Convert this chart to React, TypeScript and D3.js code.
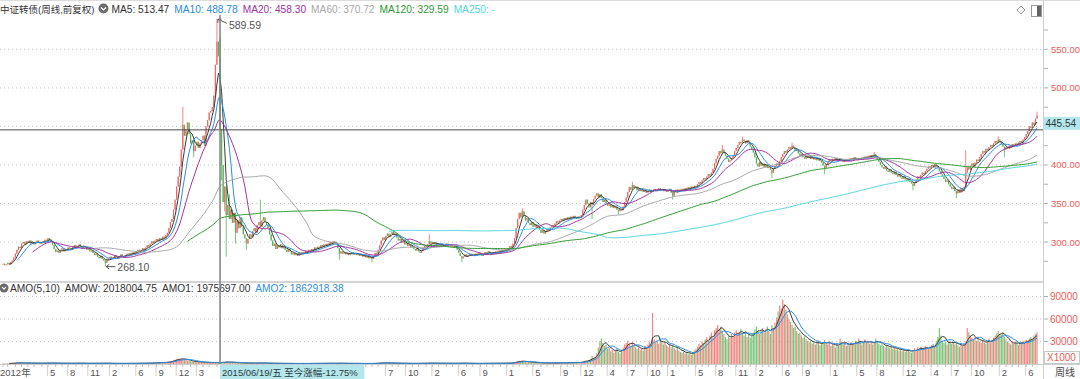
import React from "react";
import * as d3 from "d3";

// ---------------- data ----------------
const startDate = "2012-10-12"; // first weekly bar (Friday)
const title = "中证转债(周线,前复权)";

// weekly closes
const closes: number[] = [
  272,270,271,273,271,274,276,280,285,290,
  294,292,298,300,297,301,299,302,298,300,
  297,299,302,300,298,299,301,303,302,305,
  303,300,296,291,287,289,286,290,292,288,
  291,289,293,292,290,294,296,293,295,297,
  294,292,295,293,290,292,288,289,286,283,
  285,281,279,282,278,276,273,277,279,281,
  278,280,283,281,279,282,284,282,280,283,
  285,283,286,284,287,285,288,290,287,290,
  292,289,293,296,294,298,301,299,302,304,
  301,305,303,307,305,309,312,318,326,330,
  342,355,372,385,398,420,452,438,446,455,
  440,428,432,418,425,430,422,428,432,438,
  425,450,458,468,470,475,490,530,560,541,
  446,400,352,372,335,348,330,342,325,338,
  312,328,318,332,320,310,305,298,304,310,
  306,314,318,312,322,326,320,328,332,326,
  322,318,310,302,295,298,291,296,293,297,
  292,295,290,287,291,288,284,286,283,285,
  282,286,284,287,285,288,286,290,288,291,
  289,293,291,294,292,296,294,297,295,298,
  296,300,298,301,299,297,292,285,288,285,
  287,284,286,283,285,287,284,286,283,285,
  282,284,281,283,280,282,279,281,278,282,
  286,284,290,296,302,306,303,308,311,307,
  310,313,309,311,306,302,304,299,301,297,
  299,295,297,293,295,291,289,292,288,286,
  289,292,295,293,297,301,298,300,297,299,
  296,298,295,297,294,296,298,295,297,294,
  296,293,295,290,286,282,279,281,284,281,
  283,285,282,284,282,285,283,286,284,282,
  285,287,285,288,286,284,287,285,288,286,
  289,287,290,288,291,289,292,295,293,298,
  305,318,330,338,332,340,334,328,331,325,
  322,326,320,323,318,321,316,312,315,311,
  314,317,315,319,322,320,324,327,325,328,
  330,328,331,329,332,330,333,331,334,332,
  330,333,331,335,342,348,355,350,345,352,
  348,356,360,363,358,362,357,352,355,350,
  347,349,345,348,344,346,342,340,343,341,
  346,352,358,365,371,368,374,370,372,367,
  370,366,368,365,367,364,366,368,365,367,
  369,366,368,370,367,369,366,368,365,367,
  369,364,360,366,368,365,368,366,369,367,
  370,368,371,369,372,370,373,371,375,378,
  376,380,383,381,385,388,386,390,395,402,
  408,412,418,415,420,416,412,408,404,406,
  409,412,418,422,426,430,428,433,431,428,
  432,429,424,420,416,410,402,398,404,399,
  402,397,401,396,398,394,390,396,399,402,
  400,405,410,414,418,416,420,423,421,425,
  422,418,420,415,412,414,410,408,411,409,
  412,408,410,407,410,406,409,405,403,399,
  396,401,404,407,405,408,406,409,407,405,
  408,406,404,407,405,408,406,409,407,410,
  408,406,409,407,410,408,411,409,412,410,
  413,411,414,410,407,404,400,397,395,398,
  393,391,394,390,388,391,387,385,388,384,
  382,385,381,379,382,378,376,373,377,381,
  385,383,387,390,388,392,395,398,396,400,
  398,401,399,396,392,388,385,382,378,380,
  375,372,369,371,366,363,368,364,370,366,
  372,390,397,394,399,402,398,403,407,405,
  410,414,418,416,421,419,423,426,424,428,
  431,429,433,430,427,424,420,423,421,425,
  423,427,425,428,426,429,431,429,433,436,
  440,444,450,448,455,452,460,464,
];

// weekly amount, in thousands of axis units (axis shows x1000)
const amounts: number[] = [
  0.9,0.7,0.8,1.0,0.8,0.9,1.1,1.3,1.6,1.8,
  1.5,1.2,1.6,1.4,1.1,1.3,1.2,1.4,1.0,1.2,
  1.0,1.1,1.3,1.1,0.9,1.0,1.2,1.3,1.1,1.5,
  1.3,1.1,1.2,1.4,1.2,1.0,0.9,1.1,1.0,0.9,
  1.0,0.9,1.1,1.0,0.8,1.0,1.2,1.0,1.1,1.3,
  1.1,0.9,1.0,0.9,0.8,0.9,1.0,0.8,0.9,1.1,
  1.0,1.2,1.1,0.9,1.0,1.1,1.3,1.0,0.9,0.8,
  0.8,0.7,0.9,0.8,0.7,0.8,0.9,0.8,0.7,0.8,
  0.9,1.0,0.8,0.9,0.8,1.0,0.9,1.1,1.2,1.0,
  1.1,1.2,1.0,1.3,1.4,1.2,1.5,1.7,1.5,1.8,
  2.0,1.8,2.2,2.0,2.4,2.2,2.6,3.0,3.6,4.2,
  5.0,5.8,6.5,7.2,6.8,7.0,6.2,6.8,5.5,4.8,
  4.2,3.8,3.2,3.4,2.9,3.1,2.6,2.5,2.8,2.4,
  2.0,1.7,1.8,1.6,1.9,1.8,2.0,2.1,1.8,1.9,
  2.0,2.4,2.8,2.5,3.0,2.6,2.2,2.4,2.0,1.8,
  1.9,1.7,1.6,1.8,1.5,1.4,1.3,1.5,1.4,1.2,
  1.3,1.2,1.1,1.3,1.2,1.4,1.6,1.3,1.2,1.1,
  1.0,1.1,1.0,0.9,1.0,0.9,0.8,0.9,0.8,0.9,
  0.8,0.7,0.8,0.9,0.8,0.7,0.8,0.7,0.6,0.7,
  0.8,0.7,0.8,0.7,0.6,0.7,0.8,0.7,0.8,0.9,
  0.8,0.9,0.8,1.0,0.9,0.8,0.9,1.0,0.9,1.0,
  1.1,1.0,0.9,1.0,1.1,0.9,1.0,1.2,1.1,0.9,
  0.8,0.9,0.8,0.7,0.8,0.9,0.8,0.7,0.8,0.7,
  0.8,0.7,0.6,0.7,0.8,0.7,0.6,0.7,0.8,0.9,
  1.0,1.1,1.3,1.4,1.6,1.5,1.4,1.5,1.3,1.2,
  1.3,1.4,1.2,1.1,1.0,1.1,0.9,1.0,0.9,0.8,
  0.9,0.8,0.9,0.8,0.7,0.8,0.9,0.8,0.9,1.0,
  1.0,1.1,1.2,1.0,1.1,1.3,1.4,1.2,1.1,1.0,
  1.1,1.0,0.9,1.0,0.9,1.0,1.1,0.9,1.0,0.9,
  1.0,0.9,0.8,1.0,1.1,1.2,1.3,1.1,1.0,0.9,
  0.8,0.9,0.8,0.9,0.8,0.7,0.8,0.9,0.8,0.9,
  1.0,0.9,1.0,0.9,1.0,1.1,1.0,0.9,1.0,1.1,
  1.0,1.1,1.2,1.1,1.2,1.3,1.2,1.4,1.5,1.8,
  2.4,3.2,3.8,4.2,3.6,4.0,3.4,3.0,2.8,2.6,
  2.4,2.2,2.0,2.1,1.8,1.7,1.6,1.5,1.4,1.5,
  1.4,1.3,1.4,1.2,1.3,1.5,1.4,1.6,1.5,1.7,
  1.6,1.5,1.7,1.6,1.8,1.7,1.9,1.8,2.0,1.9,
  2.1,2.0,2.2,2.6,3.2,4.0,5.0,4.4,5.5,7.0,
  11,8.5,10,14,22,30,34,28,24,26,
  20,22,17,19,15,18,21,16,14,19,
  22,26,28,31,27,24,29,25,22,20,
  23,19,21,18,24,22,26,30,27,68,
  33,29,31,27,34,30,26,29,25,23,
  26,22,25,21,19,23,18,16,15,17,
  14,16,13,15,12,16,18,20,23,27,
  25,30,28,33,36,31,38,42,35,45,
  48,52,46,50,44,40,36,33,38,35,
  40,37,42,45,39,43,47,41,38,44,
  36,40,35,38,42,46,50,44,40,45,
  48,42,46,50,44,40,52,48,55,62,
  70,78,74,86,80,72,66,60,56,52,
  48,50,44,40,42,38,35,37,33,31,
  29,32,27,30,26,28,31,25,27,29,
  32,28,26,30,24,27,25,22,28,24,
  34,30,26,28,24,27,25,29,26,28,
  31,27,34,30,26,29,33,28,31,27,
  30,26,29,34,31,27,25,28,24,22,
  25,23,21,24,20,22,19,21,18,20,
  17,19,16,18,20,17,15,18,21,19,
  22,20,23,19,21,24,22,20,23,25,
  27,24,30,36,48,38,31,28,30,26,
  29,31,27,30,26,28,25,23,26,24,
  27,30,48,42,38,35,33,36,31,34,
  30,28,32,29,27,31,34,29,32,35,
  38,41,44,40,39,42,36,33,30,28,
  26,29,27,30,28,25,27,29,31,28,
  32,30,34,36,33,38,40,42,
];

// notable shadows [bar index, value]
const wickHighs: [number, number][] = [
  [116,475],[138,589.59],[140,566],[146,362],[166,355],[252,316],[275,310],[335,344],
  [406,378],[464,426],[477,437],[509,429],[562,417],[621,419],[642,437],[667,469],
];
const wickLows: [number, number][] = [
  [66,268.1],[123,410],[141,380],[143,340],[144,281],[150,298],[157,290],[217,277],
  [238,274],[296,274],[380,330],[397,336],[432,355],[496,383],[530,388],[587,367],
  [615,357],[646,410],
];

const maPeriods = [5, 10, 20, 60, 120, 250];
const maColors = ["#3a3a3a", "#2b8de3", "#a2339f", "#a8a8a8", "#2f9a2f", "#52d6e0"];
const maLegendValues = ["513.47", "488.78", "458.30", "370.72", "329.59", "-"];
const amoLegend = ["AMO(5,10)", "AMOW: 2018004.75", "AMO1: 1975697.00", "AMO2: 1862918.38"];
const amoLegendColors = ["#333", "#333", "#333", "#2b8de3"];
const amoColors = ["#3a3a3a", "#2b8de3"];
const priceTicks = [300, 350, 400, 450, 500, 550];
const amountTicks = [30, 60, 90];
const tickMonths = [
  "2012-10","2013-05","2013-08","2013-11","2014-02","2014-06","2014-09","2014-12","2015-03",
  "2017-07","2017-10","2018-02","2018-06","2018-09","2019-01","2019-05","2019-09","2019-12",
  "2020-04","2020-07","2020-10","2021-01","2021-05","2021-08","2021-11","2022-02","2022-06",
  "2022-09","2023-01","2023-05","2023-08","2023-12","2024-04","2024-07","2024-10","2025-02","2025-06",
];
const crosshairIndex = 140;
const crosshairPrice = 445.54;
const crosshairChange = "-12.75%";
const weekdayNames = ["日", "一", "二", "三", "四", "五", "六"];

// ---------------- helpers ----------------
const FONT = '"Liberation Sans", Arial, "Noto Sans CJK SC", sans-serif';
let measureCtx: CanvasRenderingContext2D | null = null;
function textWidth(t: string, size: number): number {
  if (!measureCtx && typeof document !== "undefined") {
    measureCtx = document.createElement("canvas").getContext("2d");
  }
  if (!measureCtx) return t.length * size * 0.56;
  measureCtx.font = `${size}px ${FONT}`;
  return measureCtx.measureText(t).width;
}
function sma(arr: number[], n: number): (number | null)[] {
  const out: (number | null)[] = [];
  let s = 0;
  for (let i = 0; i < arr.length; i++) {
    s += arr[i];
    if (i >= n) s -= arr[i - n];
    out.push(i >= n - 1 ? s / n : null);
  }
  return out;
}

const UP = "#f26764";
const DOWN = "#55b55a";
const UP_V = "#f58683";
const DOWN_V = "#7cc67c";
const AXIS_RED = "#ef5b57";

export default function App() {
  const W = 1080, H = 379;
  const plotR = 1043;
  const mainTop = 15, mainBottom = 281;
  const volTop = 284, volBottom = 364;

  const N = closes.length;
  const parse = d3.utcParse("%Y-%m-%d");
  const t0 = parse(startDate) as Date;
  const dates = closes.map((_, i) => d3.utcDay.offset(t0, 7 * i));
  const opens = closes.map((c, i) => (i === 0 ? c : closes[i - 1]));
  const hiMap = new Map(wickHighs);
  const loMap = new Map(wickLows);
  const highs = closes.map((c, i) => Math.max(c, opens[i], hiMap.get(i) ?? -Infinity));
  const lows = closes.map((c, i) => Math.min(c, opens[i], loMap.get(i) ?? Infinity));

  const x = d3.scaleLinear().domain([0, N - 1]).range([3, 1037]);
  const y = d3.scaleLinear().domain([249.5, 594.5]).range([mainBottom, mainTop]);
  const yv = d3.scaleLinear().domain([0, 106.7]).range([volBottom, volTop]);

  const mas = maPeriods.map((p) => sma(closes, p));
  const amos = [sma(amounts, 5), sma(amounts, 10)];

  const priceLine = d3.line<number | null>().defined((d) => d != null).x((_, i) => x(i)).y((d) => y(d as number));
  const volLine = d3.line<number | null>().defined((d) => d != null).x((_, i) => x(i)).y((d) => yv(d as number));

  const maxI = d3.maxIndex(highs);
  const minI = d3.minIndex(lows);
  const f2 = d3.format(".2f");

  const cx = x(crosshairIndex);
  const cy = y(crosshairPrice);
  const cd = dates[crosshairIndex];
  const dateText = `${d3.utcFormat("%Y/%m/%d")(cd)}/${weekdayNames[cd.getUTCDay()]}  至今涨幅${crosshairChange}`;
  const dateW = textWidth(dateText, 9.5) + 6;

  // month ticks
  const fmtYM = d3.utcFormat("%Y-%m");
  const monthStarts: number[] = [];
  dates.forEach((d, i) => {
    if (i === 0 || fmtYM(d) !== fmtYM(dates[i - 1])) monthStarts.push(i);
  });
  const labelled = monthStarts.filter(
    (i) => tickMonths.includes(fmtYM(dates[i])) && !(x(i) > cx - 12 && x(i) < cx + dateW)
  );

  // header layout
  const titleSize = 9.5;
  const legSize = 10.2;
  const titleW = textWidth(title, titleSize);
  const iconX = titleW + 9;
  let lx = iconX + 8;
  const maLegend = maPeriods.map((p, k) => {
    const t = `MA${p}: ${maLegendValues[k]}`;
    const item = { t, x: lx, c: maColors[k] === "#3a3a3a" ? "#333" : maColors[k] };
    lx += textWidth(t, legSize) + 5;
    return item;
  });
  let ax = 10;
  const amoItems = amoLegend.map((t, k) => {
    const item = { t, x: ax, c: amoLegendColors[k] };
    ax += textWidth(t, legSize) + 5;
    return item;
  });

  const minorPrice = d3.range(275, 600, 25).filter((v) => y(v) > mainTop && y(v) < mainBottom);
  // axis labels hidden behind the crosshair price box are not drawn
  const visiblePriceTicks = priceTicks.filter((v) => Math.abs(y(v) - (cy - 6.5)) > 9);

  const tip = { x: x(maxI), y: y(highs[maxI]) };
  const tipL = { x: x(minI), y: y(lows[minI]) };

  return (
    <div style={{ position: "absolute", left: 0, top: 0 }}>
      <svg width={W} height={H} style={{ display: "block", fontFamily: FONT }}>
        <defs>
          <clipPath id="mainClip"><rect x={0} y={mainTop} width={plotR} height={mainBottom - mainTop} /></clipPath>
          <clipPath id="volClip"><rect x={0} y={volTop} width={plotR} height={volBottom - volTop} /></clipPath>
        </defs>
        <rect x={0} y={0} width={W} height={H} fill="#ffffff" />
        <line x1={0} x2={W} y1={0.5} y2={0.5} stroke="#dcdcdc" />

        {/* header */}
        <text x={0} y={12.5} fontSize={titleSize} fill="#333">{title}</text>
        <circle cx={iconX} cy={8.5} r={5} fill="#6b6b6b" />
        <polyline points={`${iconX - 2.5},${7.5} ${iconX},${10} ${iconX + 2.5},${7.5}`} fill="none" stroke="#fff" strokeWidth={1.2} />
        {maLegend.map((m) => (
          <text key={m.t} x={m.x} y={12.5} fontSize={legSize} fill={m.c}>{m.t}</text>
        ))}
        <path d="M1021,6 L1025,10 L1021,14 L1017,10 Z" fill="none" stroke="#999" />
        <rect x={1031.5} y={5.5} width={10} height={11} fill="#fff" stroke="#999" />
        <rect x={1037} y={6} width={4} height={10} fill="#666" />

        {/* main grid */}
        {priceTicks.map((v) => (
          <line key={v} x1={0} x2={plotR} y1={y(v)} y2={y(v)} stroke="#c4c4c4" strokeDasharray="1,3" />
        ))}

        {/* candles */}
        <g clipPath="url(#mainClip)">
          {closes.map((c, i) => {
            const o = opens[i];
            const up = c >= o;
            const col = up ? UP : DOWN;
            const top = y(Math.max(o, c));
            const h = Math.max(1, Math.abs(y(o) - y(c)));
            return (
              <g key={i}>
                <line x1={x(i)} x2={x(i)} y1={y(highs[i])} y2={y(lows[i])} stroke={col} strokeWidth={0.8} />
                <rect x={x(i) - 0.6} y={top} width={1.2} height={h} fill={col} />
              </g>
            );
          })}
          {mas.map((m, k) => (
            <path key={k} d={priceLine(m) || ""} fill="none" stroke={maColors[k]} strokeWidth={1} />
          ))}
        </g>

        {/* max / min annotations */}
        <g stroke="#555" fill="none" strokeWidth={1}>
          <line x1={tip.x + 1} y1={tip.y + 0.5} x2={tip.x + 10} y2={tip.y + 4.5} />
          <polyline points={`${tip.x + 1},${tip.y + 4} ${tip.x + 1},${tip.y + 0.5} ${tip.x + 4.5},${tip.y + 0.5}`} />
          <line x1={tipL.x + 1} y1={tipL.y} x2={tipL.x + 10} y2={tipL.y} />
          <polyline points={`${tipL.x + 4},${tipL.y - 2.5} ${tipL.x + 1},${tipL.y} ${tipL.x + 4},${tipL.y + 2.5}`} />
        </g>
        <text x={tip.x + 12} y={tip.y + 10} fontSize={10.5} fill="#555">{f2(highs[maxI])}</text>
        <text x={tipL.x + 12} y={tipL.y + 4} fontSize={10.5} fill="#555">{f2(lows[minI])}</text>

        {/* separator */}
        <rect x={0} y={281} width={plotR} height={2} fill="#d4d4d4" />

        {/* volume header */}
        <circle cx={4} cy={288} r={4.5} fill="#6b6b6b" />
        <polyline points={`${2},${287} ${4},${289.2} ${6},${287}`} fill="none" stroke="#fff" strokeWidth={1.1} />
        {amoItems.map((m) => (
          <text key={m.t} x={m.x} y={291.5} fontSize={legSize} fill={m.c}>{m.t}</text>
        ))}

        {/* volume grid */}
        {amountTicks.map((v) => (
          <line key={v} x1={0} x2={plotR} y1={yv(v)} y2={yv(v)} stroke="#c4c4c4" strokeDasharray="1,3" />
        ))}
        <g clipPath="url(#volClip)">
          {amounts.map((a, i) => {
            const up = closes[i] >= opens[i];
            return (
              <rect key={i} x={x(i) - 0.6} y={yv(a)} width={1.2} height={Math.max(0.5, yv(0) - yv(a))} fill={up ? UP_V : DOWN_V} />
            );
          })}
          {amos.map((m, k) => (
            <path key={k} d={volLine(m) || ""} fill="none" stroke={amoColors[k]} strokeWidth={1} />
          ))}
        </g>

        {/* crosshair */}
        <line x1={0} x2={plotR} y1={cy} y2={cy} stroke="#4a4a4a" strokeWidth={1} />
        <line x1={cx} x2={cx} y1={mainTop} y2={volBottom} stroke="#808080" strokeWidth={1.5} />

        {/* right axis */}
        <line x1={plotR + 0.5} x2={plotR + 0.5} y1={0} y2={H} stroke="#cfcfcf" />
        {minorPrice.map((v) => (
          <line key={v} x1={plotR + 1} x2={plotR + 5} y1={y(v)} y2={y(v)} stroke="#b0b0b0" />
        ))}
        {visiblePriceTicks.map((v) => (
          <text key={v} x={1051} y={y(v) + 3.5} fontSize={9.5} fill={AXIS_RED}>{f2(v)}</text>
        ))}
        <rect x={plotR + 0.5} y={cy - 13} width={W - plotR} height={13} fill="#b4e7ec" />
        <text x={plotR + 2.5} y={cy - 2.8} fontSize={10} fill="#2d3a3c">{f2(crosshairPrice)}</text>

        {amountTicks.map((v) => (
          <g key={v}>
            <line x1={plotR + 1} x2={plotR + 5} y1={yv(v)} y2={yv(v)} stroke="#b0b0b0" />
            <text x={1050} y={yv(v) + 3.5} fontSize={10} fill={AXIS_RED}>{d3.format("d")(v * 1000)}</text>
          </g>
        ))}
        <rect x={plotR + 1.5} y={351.5} width={35} height={12} fill="#fff" stroke="#c8c8c8" />
        <text x={plotR + 4} y={361} fontSize={10} fill={AXIS_RED}>X1000</text>

        {/* bottom axis */}
        <line x1={0} x2={W} y1={volBottom + 0.5} y2={volBottom + 0.5} stroke="#cfcfcf" />
        {monthStarts.map((i) => (
          <line key={"m" + i} x1={x(i)} x2={x(i)} y1={volBottom} y2={volBottom + 3} stroke="#c0c0c0" />
        ))}
        {labelled.map((i) => {
          const d = dates[i];
          const label = i === 0 ? `${d.getUTCFullYear()}年` : `${d.getUTCMonth() + 1}`;
          const tx = i === 0 ? 0 : x(i) + 2;
          return (
            <g key={"l" + i}>
              {i !== 0 && <line x1={x(i) - 0.5} x2={x(i) - 0.5} y1={volBottom} y2={volBottom + 12} stroke="#d0d0d0" />}
              <text x={tx} y={375.5} fontSize={9.5} fill="#555">{label}</text>
            </g>
          );
        })}
        <rect x={cx} y={volBottom + 1} width={dateW} height={14} fill="#b4e7ec" />
        <text x={cx + 2} y={375.5} fontSize={9.5} fill="#2d3a3c">{dateText}</text>
        <rect x={plotR + 1} y={volBottom + 1} width={W - plotR} height={H - volBottom} fill="#fff" />
        <text x={1055} y={376} fontSize={10} fill="#444">周线</text>
      </svg>
    </div>
  );
}
